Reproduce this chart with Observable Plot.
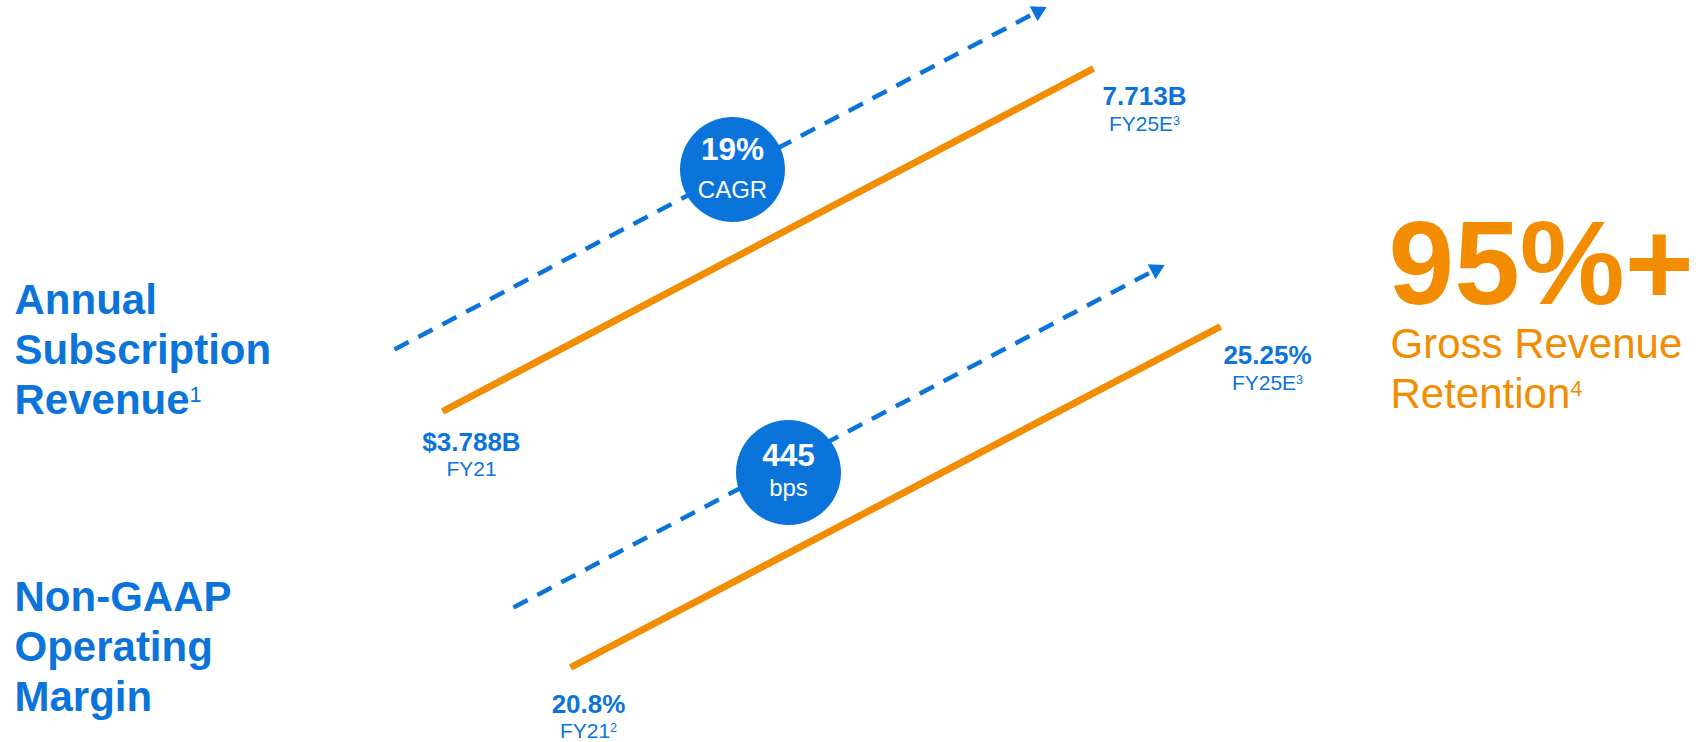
<!DOCTYPE html>
<html><head><meta charset="utf-8">
<script src="https://cdn.jsdelivr.net/npm/d3@7"></script>
<script src="https://cdn.jsdelivr.net/npm/@observablehq/plot@0.6"></script>
<style>html,body{margin:0;padding:0;background:#fff;overflow:hidden}</style>
</head><body><div id="chart"></div>
<script>
// ---------- data ----------
const metricNames = [["Annual", "Subscription", "Revenue¹"], ["Non-GAAP", "Operating", "Margin"]];
const periodStart = ["FY21", "FY21²"];
const periodEnd = ["FY25E³", "FY25E³"];
const valueStart = ["$3.788B", "20.8%"];
const valueEnd = ["7.713B", "25.25%"];
const growthValue = ["19%", "445"];
const growthUnit = ["CAGR", "bps"];
const retentionValue = ["95%+"];
const retentionLabel = ["Gross Revenue", "Retention⁴"];

// ---------- style / layout ----------
const BLUE = "#0a74da", ORANGE = "#f28c00";
const W = 1705, H = 742;
const FONT = "'Liberation Sans', Arial, Helvetica, sans-serif";
const layout = [
  {label: [14, 413], solid: [[442, 411], [1093, 68]], dashed: [[394, 349], [1045, 7]],
   bubble: [732, 169], bubbleDy: [-10, 28], startLabel: [471, 450], endLabel: [1144, 104]},
  {label: [14, 710], solid: [[570, 667], [1220, 326]], dashed: [[513, 607], [1163, 265]],
   bubble: [788, 472], bubbleDy: [-7, 23], startLabel: [588, 712], endLabel: [1267, 363]}
];
const retentionPos = {value: [1388, 303], label: [1390, 407]};

const rows = metricNames.map((m, i) => {
  const L = layout[i];
  const [S, T] = L.dashed;
  const len = Math.hypot(T[0] - S[0], T[1] - S[1]);
  const u = [(T[0] - S[0]) / len, (T[1] - S[1]) / len];
  return {
    name: m.join("\n"),
    vStart: valueStart[i], pStart: periodStart[i],
    vEnd: valueEnd[i], pEnd: periodEnd[i],
    gVal: growthValue[i], gUnit: growthUnit[i],
    L,
    dashEnd: [T[0] - 11 * u[0], T[1] - 11 * u[1]],
    head: [T[0] - 8.5 * u[0], T[1] - 8.5 * u[1]],
    angle: Math.atan2(u[1], u[0]) * 180 / Math.PI + 90
  };
});

const chart = Plot.plot({
  width: W, height: H, margin: 0,
  x: {domain: [0, W], range: [0, W], axis: null},
  y: {domain: [0, H], range: [0, H], axis: null},
  style: {fontFamily: FONT, background: "#fff"},
  marks: [
    // dashed growth arrows
    Plot.link(rows, {x1: d => d.L.dashed[0][0], y1: d => d.L.dashed[0][1], x2: d => d.dashEnd[0], y2: d => d.dashEnd[1],
      stroke: BLUE, strokeWidth: 4.5, strokeDasharray: "16 11"}),
    Plot.dot(rows, {x: d => d.head[0], y: d => d.head[1], symbol: "triangle", r: 6.3, fill: BLUE, stroke: "none", rotate: d => d.angle}),
    // solid orange trend lines
    Plot.link(rows, {x1: d => d.L.solid[0][0], y1: d => d.L.solid[0][1], x2: d => d.L.solid[1][0], y2: d => d.L.solid[1][1],
      stroke: ORANGE, strokeWidth: 7}),
    // bubbles
    Plot.dot(rows, {x: d => d.L.bubble[0], y: d => d.L.bubble[1], r: 52.5, fill: BLUE, stroke: "none"}),
    Plot.text(rows, {x: d => d.L.bubble[0], y: d => d.L.bubble[1] + d.L.bubbleDy[0], text: "gVal", fill: "#fff",
      fontSize: 31.5, fontWeight: "bold", lineAnchor: "bottom"}),
    Plot.text(rows, {x: d => d.L.bubble[0], y: d => d.L.bubble[1] + d.L.bubbleDy[1], text: "gUnit", fill: "#fff",
      fontSize: 24, lineAnchor: "bottom"}),
    // metric names
    Plot.text(rows, {x: d => d.L.label[0], y: d => d.L.label[1], text: "name", fill: BLUE, fontSize: 42, fontWeight: "bold",
      textAnchor: "start", lineAnchor: "bottom", lineHeight: 1.185}),
    // start labels
    Plot.text(rows, {x: d => d.L.startLabel[0], y: d => d.L.startLabel[1], text: "vStart", fill: BLUE, fontSize: 26, fontWeight: "bold", lineAnchor: "bottom"}),
    Plot.text(rows, {x: d => d.L.startLabel[0], y: d => d.L.startLabel[1] + 25, text: "pStart", fill: BLUE, fontSize: 21, lineAnchor: "bottom"}),
    // end labels
    Plot.text(rows, {x: d => d.L.endLabel[0], y: d => d.L.endLabel[1], text: "vEnd", fill: BLUE, fontSize: 26, fontWeight: "bold", lineAnchor: "bottom"}),
    Plot.text(rows, {x: d => d.L.endLabel[0], y: d => d.L.endLabel[1] + 26, text: "pEnd", fill: BLUE, fontSize: 21, lineAnchor: "bottom"}),
    // retention
    Plot.text(retentionValue, {x: () => retentionPos.value[0], y: () => retentionPos.value[1], text: d => d, fill: ORANGE,
      fontSize: 118, fontWeight: "bold", textAnchor: "start", lineAnchor: "bottom"}),
    Plot.text([retentionLabel.join("\n")], {x: () => retentionPos.label[0], y: () => retentionPos.label[1], text: d => d, fill: ORANGE,
      fontSize: 42, textAnchor: "start", lineAnchor: "bottom", lineHeight: 1.19})
  ]
});

document.getElementById("chart").appendChild(chart);

// superscripts as real smaller raised digits (after attaching, so computed font sizes are known)
const SUP = {"¹": "1", "²": "2", "³": "3", "⁴": "4"};
(function applySup(svg) {
  const walker = document.createTreeWalker(svg, NodeFilter.SHOW_TEXT);
  const nodes = [];
  while (walker.nextNode()) nodes.push(walker.currentNode);
  for (const n of nodes) {
    const s = n.nodeValue;
    const m = s.match(/[¹²³⁴]/);
    if (!m) continue;
    const F = parseFloat(getComputedStyle(n.parentNode).fontSize) || 20;
    n.nodeValue = s.slice(0, m.index);
    const t = document.createElementNS("http://www.w3.org/2000/svg", "tspan");
    const sf = F > 30 ? 0.52 : 0.6;
    t.setAttribute("font-size", (F * sf).toFixed(1));
    t.setAttribute("font-weight", "normal");
    t.setAttribute("dy", (-0.285 * F).toFixed(1));
    t.textContent = SUP[m[0]];
    n.parentNode.insertBefore(t, n.nextSibling);
  }
})(chart);
</script>
</body></html>
